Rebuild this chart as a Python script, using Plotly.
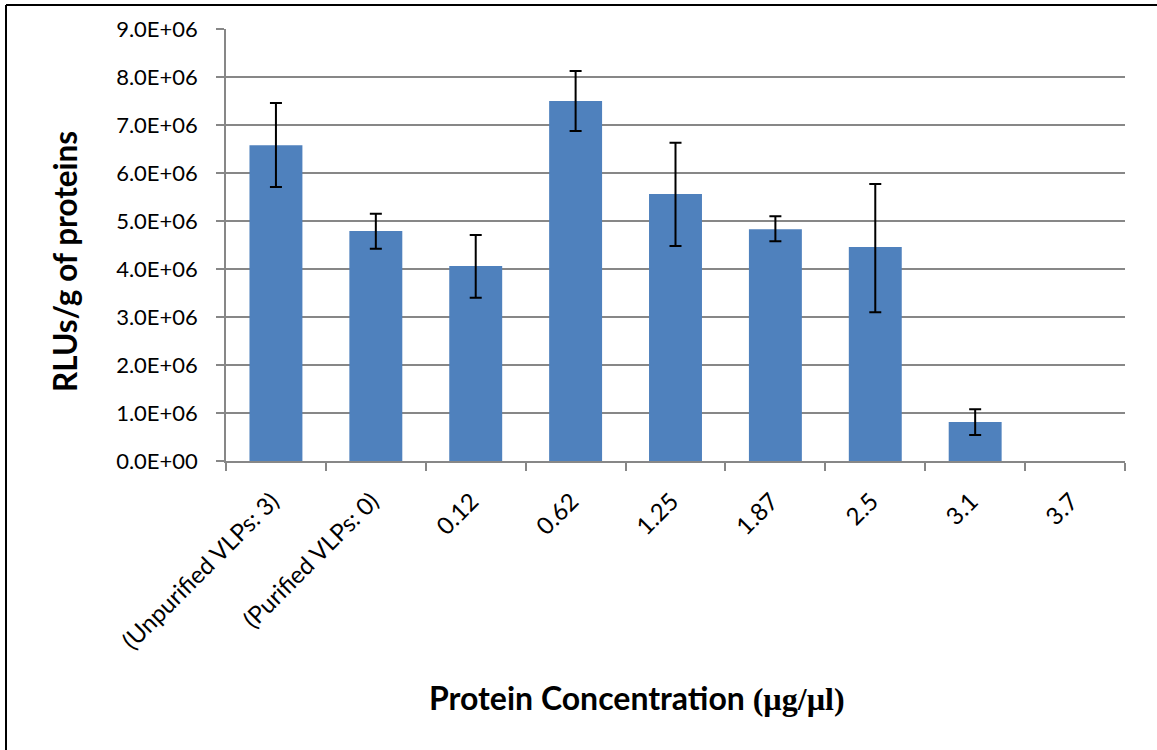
import plotly.graph_objects as go

categories = ["(Unpurified VLPs: 3)", "(Purified VLPs: 0)", "0.12", "0.62", "1.25", "1.87", "2.5", "3.1", "3.7"]
values = [6.58e6, 4.79e6, 4.06e6, 7.50e6, 5.56e6, 4.83e6, 4.46e6, 0.81e6, 0.0]
err_plus = [0.88e6, 0.36e6, 0.65e6, 0.625e6, 1.07e6, 0.27e6, 1.31e6, 0.27e6, None]
err_minus = [0.87e6, 0.37e6, 0.66e6, 0.625e6, 1.08e6, 0.25e6, 1.36e6, 0.27e6, None]
y_ticks = [0, 1e6, 2e6, 3e6, 4e6, 5e6, 6e6, 7e6, 8e6, 9e6]
y_tick_labels = ["0.0E+00", "1.0E+06", "2.0E+06", "3.0E+06", "4.0E+06", "5.0E+06",
                 "6.0E+06", "7.0E+06", "8.0E+06", "9.0E+06"]

W, H = 1157, 750
L, R, T, B = 226, 32, 29, 289
pw, ph = W - L - R, H - T - B

def px_x(x):
    return (x - L) / pw

def px_y(y):
    return (H - B - y) / ph

font = "Lato, 'Open Sans', sans-serif"
grid = "#878787"

fig = go.Figure()
fig.add_trace(go.Bar(
    x=categories, y=values,
    marker=dict(color="#4F81BD", line=dict(width=0)),
    width=0.53,
))

# error bars only where an error value exists
idx = [i for i, e in enumerate(err_plus) if e is not None]
fig.add_trace(go.Scatter(
    x=[categories[i] for i in idx], y=[values[i] for i in idx],
    mode="markers", marker=dict(size=1, opacity=0),
    error_y=dict(type="data", symmetric=False,
                 array=[err_plus[i] for i in idx],
                 arrayminus=[err_minus[i] for i in idx],
                 color="black", thickness=2, width=6),
    hoverinfo="skip",
))

fig.update_layout(
    width=W, height=H,
    margin=dict(l=L, r=R, t=T, b=B, pad=0),
    paper_bgcolor="white", plot_bgcolor="white",
    showlegend=False,
    font=dict(family=font, size=20, color="black"),
    xaxis=dict(
        type="category", range=[-0.5, 8.5],
        categoryorder="array", categoryarray=categories,
        tickangle=-45, tickson="boundaries", ticks="outside", ticklen=8,
        tickcolor=grid, tickwidth=1.5,
        showline=True, linecolor=grid, linewidth=1.5,
        showgrid=False, tickfont=dict(size=24, family=font),
        ticklabelstandoff=15, ticklabelshift=-4,
    ),
    yaxis=dict(
        range=[0, 9e6], tickvals=y_ticks, ticktext=y_tick_labels,
        ticks="outside", ticklen=8, tickcolor=grid, tickwidth=1.5,
        showline=True, linecolor=grid, linewidth=1.5,
        showgrid=True, gridcolor=grid, gridwidth=1.5,
        zeroline=False, tickfont=dict(size=22, family=font),
        ticklabelstandoff=14,
    ),
    annotations=[
        dict(text="<b>RLUs/g of proteins</b>", xref="paper", yref="paper",
             x=px_x(65), y=px_y(262), textangle=-90, showarrow=False,
             font=dict(size=31.5, family=font), xanchor="center", yanchor="middle"),
        dict(text="<b>Protein Concentration <span style=\"font-family:'Liberation Serif',serif\">(µg/µl)</span></b>",
             xref="paper", yref="paper", x=px_x(637), y=px_y(697), showarrow=False,
             font=dict(size=32, family=font), xanchor="center", yanchor="middle"),
    ],
    shapes=[
        dict(type="line", xref="paper", yref="paper", x0=px_x(6), x1=px_x(6),
             y0=px_y(5), y1=px_y(760), line=dict(color="black", width=2)),
        dict(type="line", xref="paper", yref="paper", x0=px_x(6), x1=px_x(1170),
             y0=px_y(5), y1=px_y(5), line=dict(color="black", width=2)),
    ],
)

fig.write_html("out.html", config={"displayModeBar": False},
               post_script="document.body.style.margin='0';document.body.style.overflow='hidden';")
